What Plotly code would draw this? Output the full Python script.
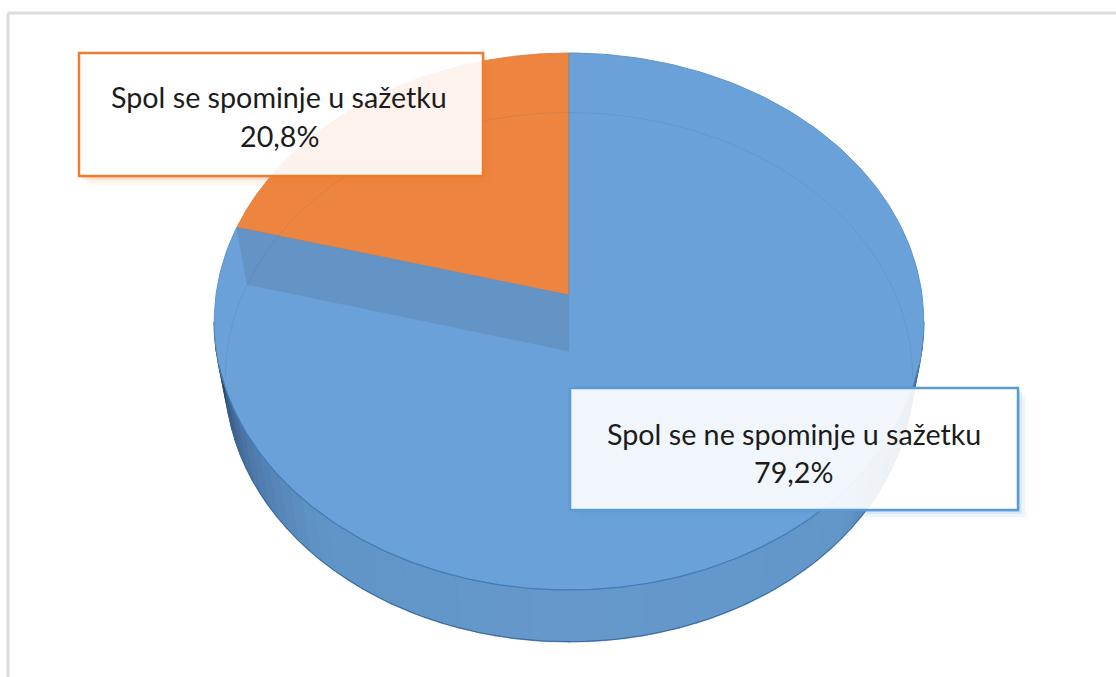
import numpy as np
import plotly.graph_objects as go

# ---- data ----
categories = ["Spol se ne spominje u sažetku", "Spol se spominje u sažetku"]
shares = [79.2, 20.8]
slice_colors = ["#6aa1d8", "#ed8540"]
box_colors = ["#5b9bd5", "#ed7d31"]

# ---- pie projection (screen-pixel axes) ----
CX, K = 569.0, 0.0987
TOP = dict(cy=295.0, rx=353.0, ry=265.9)
BOT = dict(cy=351.0, rx=342.0, ry=262.0)


def proj(theta_deg, face):
    t = np.radians(np.asarray(theta_deg, dtype=float))
    u, v = np.sin(t), -np.cos(t)
    d = 1 - K * v
    return CX + face["rx"] * u / d, face["cy"] + face["ry"] * v / d


def sector(a0, a1):
    th = np.linspace(a0, a1, 240)
    x, y = proj(th, TOP)
    return np.r_[CX, x, CX], np.r_[TOP["cy"], y, TOP["cy"]]


def lerp_color(theta):
    stops = [96, 112, 122, 132, 180, 222, 240, 250, 258, 265]
    r = [58, 70, 85, 98, 102, 96, 80, 65, 50, 35]
    g = [100, 112, 130, 150, 152, 148, 122, 100, 75, 50]
    b = [150, 165, 180, 200, 204, 198, 172, 145, 110, 75]
    return f"rgb({np.interp(theta, stops, r):.0f},{np.interp(theta, stops, g):.0f},{np.interp(theta, stops, b):.0f})"


fig = go.Figure()


def poly(x, y, fill, line=None, width=1):
    fig.add_trace(go.Scatter(x=x, y=y, mode="lines", fill="toself", fillcolor=fill,
                             line=dict(color=line or fill, width=width),
                             hoverinfo="skip", showlegend=False))


def stroke(x, y, color, width=1):
    fig.add_trace(go.Scatter(x=x, y=y, mode="lines", line=dict(color=color, width=width),
                             hoverinfo="skip", showlegend=False))


# outer wall
edges = np.linspace(95.7, 264.3, 61)
for a0, a1 in zip(edges[:-1], edges[1:]):
    th = np.linspace(a0, a1, 4)
    xt, yt = proj(th, TOP)
    xb, yb = proj(th[::-1], BOT)
    poly(np.r_[xt, xb, xt[0]], np.r_[yt, yb, yt[0]], lerp_color((a0 + a1) / 2), width=1.6)
xb, yb = proj(np.linspace(95.7, 264.3, 200), BOT)
stroke(xb, yb, "#3a6a9c", 1)

# top face slices: the first slice runs clockwise from 12 o'clock
blue_end = shares[0] / 100 * 360
x, y = sector(0, blue_end)
poly(x, y, slice_colors[0], "#5f94cb", 1)
x, y = sector(blue_end, 360)
poly(x, y, slice_colors[1], "#d97a3a", 0.8)

# inner cut wall seen through the slice
ex, ey = proj(blue_end, TOP)
fx, fy = proj(blue_end, BOT)
poly([CX, float(ex), float(fx), CX, CX], [TOP["cy"], float(ey), float(fy), BOT["cy"], TOP["cy"]], "#6493c5", width=0.5)
stroke([CX, CX], [proj(0, TOP)[1], TOP["cy"]], "#5f97cf", 1)

# far bottom rim seen through the top face
xb, yb = proj(np.linspace(-95.7, 95.7, 240), BOT)
stroke(xb, yb, "rgba(70,90,120,0.14)", 1)

# near top rim highlight
xt, yt = proj(np.linspace(105, 255, 200), TOP)
stroke(xt, yt, "#3f7cb8", 1.2)

# ---- label boxes ----
boxes = [(570, 388, 1018, 510), (79, 53, 483, 176)]
text_y = [(434, 472), (97, 136)]
text_x = [793.5, 279]
shapes, annotations = [], []


def hex_rgba(h, a):
    return f"rgba({int(h[1:3],16)},{int(h[3:5],16)},{int(h[5:7],16)},{a})"


for i, (x0, y0, x1, y1) in enumerate(boxes):
    for d, a in [(10, 0.04), (7, 0.07), (4, 0.12), (2, 0.2)]:
        shapes.append(dict(type="path", layer="above", line_width=0,
                           fillcolor=hex_rgba(box_colors[i], a),
                           path=f"M{x1},{y0+d} L{x1+d},{y0+d} L{x1+d},{y1+d} L{x0+d},{y1+d} L{x0+d},{y1} L{x1},{y1} Z"))
    shapes.append(dict(type="rect", layer="above", x0=x0, y0=y0, x1=x1, y1=y1,
                       fillcolor="rgba(255,255,255,0.9)", line=dict(color=box_colors[i], width=2.5)))
    pct = f"{shares[i]:.1f}%".replace(".", ",")
    for txt, ty in zip((categories[i], pct), text_y[i]):
        annotations.append(dict(x=text_x[i], y=ty, text=txt, showarrow=False, xanchor="center", yanchor="middle",
                                font=dict(family="Lato, 'Open Sans', sans-serif", size=28.7, color="#1c1c1c")))

# outer chart frame
for s in [dict(x0=8, y0=13, x1=1116, y1=13), dict(x0=8, y0=13, x1=8, y1=677)]:
    shapes.append(dict(type="line", layer="above", line=dict(color="#dcdcdc", width=3), **s))

fig.update_layout(width=1116, height=677, margin=dict(l=0, r=0, t=0, b=0),
                  paper_bgcolor="white", plot_bgcolor="white", showlegend=False,
                  xaxis=dict(range=[0, 1116], visible=False, fixedrange=True),
                  yaxis=dict(range=[677, 0], visible=False, fixedrange=True),
                  shapes=shapes, annotations=annotations)

fig.write_html("out.html", config=dict(displayModeBar=False),
               post_script="document.body.style.margin='0';document.body.style.overflow='hidden';")
